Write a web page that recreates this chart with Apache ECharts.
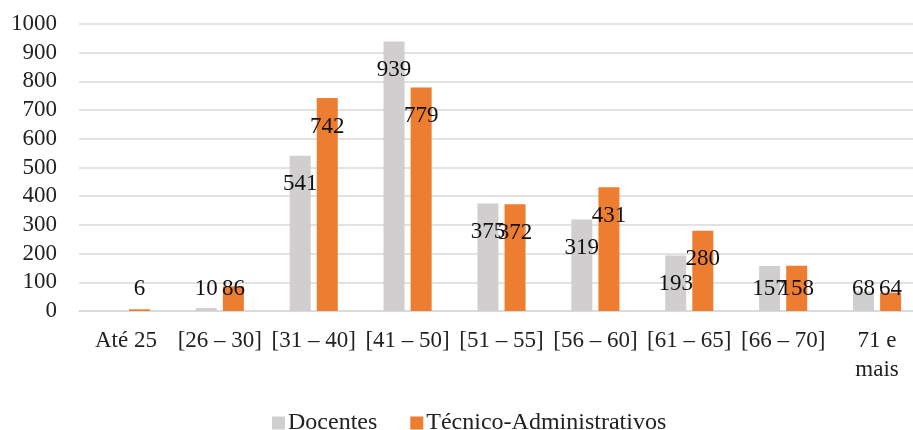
<!DOCTYPE html>
<html>
<head>
<meta charset="utf-8">
<script src="https://cdn.jsdelivr.net/npm/echarts@6/dist/echarts.min.js"></script>
<style>html,body{margin:0;padding:0;background:#fff}#c{width:913px;height:430px}</style>
</head>
<body>
<div id="c"></div>
<script>
const categories = ['Até 25', '[26 – 30]', '[31 – 40]', '[41 – 50]', '[51 – 55]', '[56 – 60]', '[61 – 65]', '[66 – 70]', '71 e\nmais'];
const docentes = [0, 10, 541, 939, 375, 319, 193, 157, 68];
const tecnicos = [6, 86, 742, 779, 372, 431, 280, 158, 64];
const seriesNames = ['Docentes', 'Técnico-Administrativos'];
const yTicks = [0, 100, 200, 300, 400, 500, 600, 700, 800, 900, 1000];

const FONT = 'Liberation Serif';
function items(arr) {
  return arr.map(v => ({
    value: v,
    label: v > 175
      ? { position: 'insideTop', distance: 17 }
      : { position: 'insideBottom', distance: 11 }
  }));
}
const labelBase = {
  show: true, color: '#111', fontFamily: FONT, fontSize: 23,
  formatter: p => (p.value === 0 ? '' : String(p.value))
};
const chart = echarts.init(document.getElementById('c'), null, { renderer: 'canvas' });
chart.setOption({
  animation: false,
  backgroundColor: '#fff',
  grid: { left: 79, width: 845, top: 24, height: 287, containLabel: false, outerBoundsMode: 'none' },
  legend: {
    top: 406, left: 267, icon: 'rect', itemWidth: 13, itemHeight: 13, itemGap: 33,
    textStyle: { fontFamily: FONT, fontSize: 24, color: '#222', padding: [0, 0, 0, -2] },
    data: seriesNames
  },
  xAxis: {
    type: 'category', data: categories,
    axisTick: { show: false },
    axisLine: { lineStyle: { color: '#d9d9d9', width: 1.5 } },
    axisLabel: { fontFamily: FONT, fontSize: 23, color: '#222', margin: 15, lineHeight: 29, interval: 0 }
  },
  yAxis: {
    type: 'value', min: yTicks[0], max: yTicks[yTicks.length - 1], interval: 100,
    axisLine: { show: false }, axisTick: { show: false },
    splitLine: { lineStyle: { color: '#d9d9d9', width: 1.5 } },
    axisLabel: { fontFamily: FONT, fontSize: 23, color: '#222', margin: 22, formatter: v => String(v) }
  },
  series: [
    { name: seriesNames[0], type: 'bar', data: items(docentes), barWidth: 21, barGap: '29%',
      itemStyle: { color: '#d0cece' }, label: labelBase },
    { name: seriesNames[1], type: 'bar', data: items(tecnicos), barWidth: 21, barGap: '29%',
      itemStyle: { color: '#ed7d31' }, label: labelBase }
  ]
});
</script>
</body>
</html>
